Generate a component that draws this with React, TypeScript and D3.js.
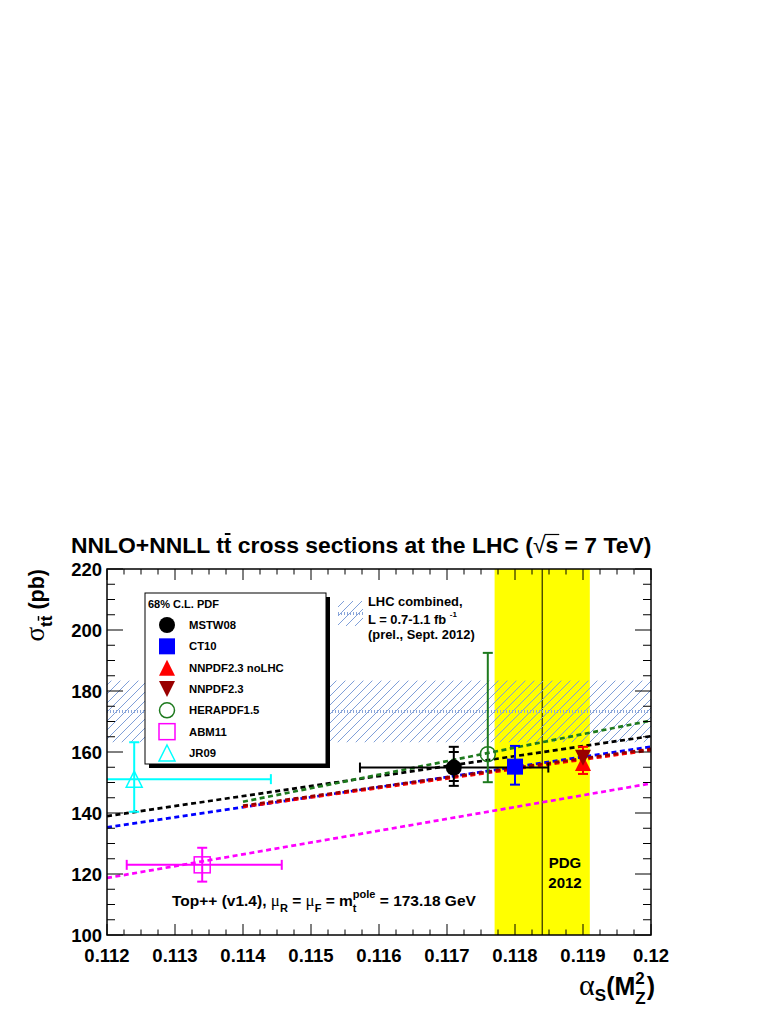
import React, { useEffect, useRef } from 'react';
import * as d3 from 'd3';

// PDF sets shown in the legend / as points
const pdfNames = ['MSTW08', 'CT10', 'NNPDF2.3 noLHC', 'NNPDF2.3', 'HERAPDF1.5', 'ABM11', 'JR09'];
const pdfColors = ['#000000', '#0000ff', '#ff0000', '#990000', '#1e7a1e', '#ff00ff', '#00ffff'];
const pdfMarkers = ['circle', 'square', 'triUp', 'triDown', 'openCircle', 'openSquare', 'openTri'];

// central values
const alphaS = [0.1171, 0.1180, 0.1190, 0.1190, 0.1176, 0.1134, 0.1124];
const sigma = [154.9, 155.2, 156.4, 158.1, 159.3, 123.0, 151.1];
// total errors
const sigmaLow = [148.9, 149.3, 152.8, 154.8, 150.1, 117.5, 140.4];
const sigmaHigh = [161.7, 162.0, 161.7, 160.3, 192.5, 128.6, 163.2];
// inner (pdf only) errors, MSTW only
const sigmaLowInner = [150.5, null, null, null, null, null, null];
const sigmaHighInner = [160.0, null, null, null, null, null, null];
// alpha_s uncertainties
const alphaLow = [0.11572, null, null, null, null, 0.11229, 0.1104];
const alphaHigh = [0.11849, null, null, null, null, 0.11457, 0.11441];

// sigma(alpha_s) dependence lines
const lineAlphaStart = [0.112, 0.112, 0.114, 0.114, 0.114, 0.112, null];
const lineAlphaEnd = [0.12, 0.12, 0.12, 0.12, 0.12, 0.12, null];
const lineSigmaStart = [139.0, 135.3, 142.0, 142.4, 143.7, 118.7, null];
const lineSigmaEnd = [165.2, 161.7, 160.6, 161.0, 170.3, 149.7, null];

// LHC combined measurement: low, central, high
const lhcCombined = [163.2, 173.3, 183.4];
// PDG 2012 alpha_s: low, central, high
const pdgAlpha = [0.1177, 0.1184, 0.1191];

const xTicks = [0.112, 0.113, 0.114, 0.115, 0.116, 0.117, 0.118, 0.119, 0.12];
const xTickLabels = ['0.112', '0.113', '0.114', '0.115', '0.116', '0.117', '0.118', '0.119', '0.12'];
const yTicks = [100, 120, 140, 160, 180, 200, 220];

const FONT = 'Liberation Sans, Arial, Helvetica, sans-serif';
const GREEK = 'Liberation Serif, Times New Roman, serif';

export default function App() {
  const ref = useRef<SVGSVGElement>(null);

  useEffect(() => {
    const svg = d3.select(ref.current);
    svg.selectAll('*').remove();

    const left = 107, right = 651, top = 569, bottom = 935;
    const x = d3.scaleLinear().domain([0.112, 0.12]).range([left, right]);
    const y = d3.scaleLinear().domain([100, 220]).range([bottom, top]);

    svg.append('rect').attr('width', 781).attr('height', 1010).attr('fill', '#fff');

    /* hatch pattern */
    const defs = svg.append('defs');
    const pat = defs.append('pattern').attr('id', 'hatch')
      .attr('patternUnits', 'userSpaceOnUse').attr('width', 9).attr('height', 9);
    pat.append('path').attr('d', 'M-1,1 L1,-1 M0,9 L9,0 M8,10 L10,8')
      .attr('stroke', '#7f9fd8').attr('stroke-width', 1);
    defs.append('clipPath').attr('id', 'plotclip').append('rect')
      .attr('x', left).attr('y', top).attr('width', right - left).attr('height', bottom - top);

    const plot = svg.append('g').attr('clip-path', 'url(#plotclip)');

    /* PDG band */
    plot.append('rect')
      .attr('x', x(pdgAlpha[0])).attr('y', top)
      .attr('width', x(pdgAlpha[2]) - x(pdgAlpha[0])).attr('height', bottom - top)
      .attr('fill', '#ffff00');
    plot.append('line')
      .attr('x1', x(pdgAlpha[1])).attr('x2', x(pdgAlpha[1]))
      .attr('y1', top).attr('y2', bottom)
      .attr('stroke', '#000').attr('stroke-width', 1);

    /* LHC combined band */
    plot.append('rect')
      .attr('x', left).attr('y', y(lhcCombined[2]))
      .attr('width', right - left).attr('height', y(lhcCombined[0]) - y(lhcCombined[2]))
      .attr('fill', 'url(#hatch)');
    plot.append('line')
      .attr('x1', left).attr('x2', right)
      .attr('y1', y(lhcCombined[1])).attr('y2', y(lhcCombined[1]))
      .attr('stroke', '#8aa6da').attr('stroke-width', 3).attr('stroke-dasharray', '1 2');

    /* dashed sigma(alpha_s) lines */
    pdfNames.forEach((_, i) => {
      if (lineAlphaStart[i] == null) return;
      plot.append('line')
        .attr('x1', x(lineAlphaStart[i] as number)).attr('y1', y(lineSigmaStart[i] as number))
        .attr('x2', x(lineAlphaEnd[i] as number)).attr('y2', y(lineSigmaEnd[i] as number))
        .attr('stroke', pdfColors[i]).attr('stroke-width', 2.7)
        .attr('stroke-dasharray', '5 3.5');
    });

    /* error bars */
    const cap = 5;
    pdfNames.forEach((_, i) => {
      const g = plot.append('g').attr('stroke', pdfColors[i]).attr('stroke-width', 2);
      const cx = x(alphaS[i]);
      g.append('line').attr('x1', cx).attr('x2', cx)
        .attr('y1', y(sigmaLow[i])).attr('y2', y(sigmaHigh[i]));
      [sigmaLow[i], sigmaHigh[i], sigmaLowInner[i], sigmaHighInner[i]].forEach(v => {
        if (v == null) return;
        g.append('line').attr('x1', cx - cap).attr('x2', cx + cap)
          .attr('y1', y(v)).attr('y2', y(v));
      });
      if (alphaLow[i] != null) {
        const cy = y(sigma[i]);
        g.append('line').attr('x1', x(alphaLow[i] as number)).attr('x2', x(alphaHigh[i] as number))
          .attr('y1', cy).attr('y2', cy);
        [alphaLow[i], alphaHigh[i]].forEach(v => {
          g.append('line').attr('x1', x(v as number)).attr('x2', x(v as number))
            .attr('y1', cy - cap).attr('y2', cy + cap);
        });
      }
    });

    /* markers */
    const drawMarker = (g: any, kind: string, cx: number, cy: number, color: string) => {
      const s = 8;
      if (kind === 'circle' || kind === 'openCircle') {
        g.append('circle').attr('cx', cx).attr('cy', cy).attr('r', kind === 'circle' ? 8 : 7.5)
          .attr('fill', kind === 'circle' ? color : 'none')
          .attr('stroke', color).attr('stroke-width', kind === 'circle' ? 0 : 1.5);
      } else if (kind === 'square' || kind === 'openSquare') {
        g.append('rect').attr('x', cx - s).attr('y', cy - s).attr('width', 2 * s).attr('height', 2 * s)
          .attr('fill', kind === 'square' ? color : 'none')
          .attr('stroke', color).attr('stroke-width', kind === 'square' ? 0 : 1.5);
      } else if (kind === 'triUp' || kind === 'openTri') {
        g.append('path').attr('d', `M${cx},${cy - s} L${cx + s},${cy + s} L${cx - s},${cy + s} Z`)
          .attr('fill', kind === 'triUp' ? color : 'none')
          .attr('stroke', color).attr('stroke-width', kind === 'triUp' ? 0 : 1.5);
      } else if (kind === 'triDown') {
        g.append('path').attr('d', `M${cx},${cy + s} L${cx + s},${cy - s} L${cx - s},${cy - s} Z`)
          .attr('fill', color);
      }
    };
    pdfNames.forEach((_, i) => {
      drawMarker(plot, pdfMarkers[i], x(alphaS[i]), y(sigma[i]), pdfColors[i]);
    });

    /* frame + ticks */
    const axes = svg.append('g').attr('stroke', '#000').attr('stroke-width', 1);
    for (let v = 100; v <= 220; v += 5) {
      const len = v % 20 === 0 ? 16 : 8;
      axes.append('line').attr('x1', left).attr('x2', left + len).attr('y1', y(v)).attr('y2', y(v));
      axes.append('line').attr('x1', right).attr('x2', right - len).attr('y1', y(v)).attr('y2', y(v));
    }
    for (let k = 0; k <= 32; k++) {
      const v = 0.112 + k * 0.00025;
      const len = k % 4 === 0 ? 11 : 5.5;
      axes.append('line').attr('x1', x(v)).attr('x2', x(v)).attr('y1', bottom).attr('y2', bottom - len);
      axes.append('line').attr('x1', x(v)).attr('x2', x(v)).attr('y1', top).attr('y2', top + len);
    }
    axes.append('rect').attr('x', left).attr('y', top).attr('width', right - left).attr('height', bottom - top)
      .attr('fill', 'none').attr('stroke-width', 1.5);

    /* tick labels */
    const labels = svg.append('g').attr('font-family', FONT).attr('font-weight', 'bold').attr('font-size', 18.5);
    yTicks.forEach(v => {
      labels.append('text').attr('x', left - 5).attr('y', y(v) + 6.5).attr('text-anchor', 'end').text(v);
    });
    xTicks.forEach((v, i) => {
      labels.append('text').attr('x', x(v)).attr('y', bottom + 27).attr('text-anchor', 'middle').text(xTickLabels[i]);
    });

    /* title */
    const title = svg.append('text').attr('x', 71).attr('y', 553)
      .attr('font-family', FONT).attr('font-weight', 'bold').attr('font-size', 22.9);
    title.append('tspan').text('NNLO+NNLL t');
    const tbar = title.append('tspan').text('t');
    title.append('tspan').text(' cross sections at the LHC (');
    const rad = title.append('tspan').text('√').attr('font-weight', 'normal');
    const sq = title.append('tspan').text('s');
    title.append('tspan').text(' = 7 TeV)');
    {
      const n: any = tbar.node();
      const a = n.getStartPositionOfChar(0).x, b = n.getEndPositionOfChar(0).x;
      svg.append('line').attr('x1', a + 1).attr('x2', b - 1).attr('y1', 553 - 19).attr('y2', 553 - 19)
        .attr('stroke', '#000').attr('stroke-width', 2);
      const r: any = rad.node(); const s: any = sq.node();
      svg.append('line').attr('x1', r.getEndPositionOfChar(0).x - 1).attr('x2', s.getEndPositionOfChar(0).x + 1)
        .attr('y1', 553 - 18.5).attr('y2', 553 - 18.5).attr('stroke', '#000').attr('stroke-width', 1.2);
    }

    /* y-axis title */
    const yt = svg.append('g').attr('transform', `translate(44,${top}) rotate(-90)`);
    const ytt = yt.append('text').attr('text-anchor', 'end')
      .attr('font-family', FONT).attr('font-weight', 'bold');
    ytt.append('tspan').text('σ').attr('font-family', GREEK).attr('font-weight', 'normal').attr('font-size', 27);
    ytt.append('tspan').text('t').attr('font-size', 17).attr('dy', 8);
    const ybar = ytt.append('tspan').text('t').attr('font-size', 17);
    ytt.append('tspan').text('  (pb)').attr('font-size', 21.5).attr('dy', -8);
    {
      const n: any = ybar.node();
      const a = n.getStartPositionOfChar(0).x, b = n.getEndPositionOfChar(0).x;
      yt.append('line').attr('x1', a + 0.5).attr('x2', b - 0.5).attr('y1', 8 - 13.5).attr('y2', 8 - 13.5)
        .attr('stroke', '#000').attr('stroke-width', 1.5);
    }

    /* x-axis title */
    const xg = svg.append('g');
    const xt = xg.append('text').attr('x', 0).attr('y', 995)
      .attr('font-family', FONT).attr('font-weight', 'bold');
    xt.append('tspan').text('α').attr('font-family', GREEK).attr('font-weight', 'normal').attr('font-size', 30);
    xt.append('tspan').text('S').attr('font-size', 17).attr('dy', 6);
    xt.append('tspan').text('(M').attr('font-size', 25).attr('dy', -6);
    const sup = xt.append('tspan').text('2').attr('font-size', 17).attr('dy', -11);
    {
      const n: any = sup.node();
      const sx = n.getStartPositionOfChar(0).x;
      const ex = n.getEndPositionOfChar(0).x;
      const sub = xt.append('tspan').text('Z').attr('font-size', 17).attr('x', sx).attr('dy', 20);
      const ez = (sub.node() as any).getEndPositionOfChar(0).x;
      xt.append('tspan').text(')').attr('font-size', 25).attr('x', Math.max(ex, ez) + 1).attr('dy', -9);
      const bb = (xt.node() as any).getBBox();
      xg.attr('transform', `translate(${right + 4 - (bb.x + bb.width)},0)`);
    }

    /* Top++ annotation */
    const an = svg.append('text').attr('x', 172).attr('y', 906)
      .attr('font-family', FONT).attr('font-weight', 'bold').attr('font-size', 15.5);
    an.append('tspan').text('Top++ (v1.4), ');
    an.append('tspan').text('μ').attr('font-family', GREEK).attr('font-weight', 'normal').attr('font-size', 17);
    an.append('tspan').text('R').attr('font-size', 11).attr('dy', 6);
    an.append('tspan').text(' = ').attr('dy', -6);
    an.append('tspan').text('μ').attr('font-family', GREEK).attr('font-weight', 'normal').attr('font-size', 17);
    an.append('tspan').text('F').attr('font-size', 11).attr('dy', 6);
    an.append('tspan').text(' = m').attr('dy', -6);
    const pole = an.append('tspan').text('pole').attr('font-size', 11).attr('dy', -8);
    {
      const n: any = pole.node();
      const sx = n.getStartPositionOfChar(0).x;
      const ex = n.getEndPositionOfChar(3).x;
      an.append('tspan').text('t').attr('font-size', 11).attr('x', sx).attr('dy', 14);
      an.append('tspan').text(' = 173.18 GeV').attr('x', ex).attr('dy', -6);
    }

    /* PDG label */
    const pdg = svg.append('g').attr('font-family', FONT).attr('font-weight', 'bold').attr('font-size', 15)
      .attr('text-anchor', 'middle');
    pdg.append('text').attr('x', 565).attr('y', 868).text('PDG');
    pdg.append('text').attr('x', 565).attr('y', 888).text('2012');

    /* LHC combined legend */
    svg.append('rect').attr('x', 338).attr('y', 601).attr('width', 25).attr('height', 25).attr('fill', 'url(#hatch)');
    svg.append('line').attr('x1', 338).attr('x2', 363).attr('y1', 613.5).attr('y2', 613.5)
      .attr('stroke', '#8aa6da').attr('stroke-width', 3).attr('stroke-dasharray', '1 2');
    const lhc = svg.append('g').attr('font-family', FONT).attr('font-weight', 'bold').attr('font-size', 12.9);
    lhc.append('text').attr('x', 368).attr('y', 606).text('LHC combined,');
    const l2 = lhc.append('text').attr('x', 368).attr('y', 623.5);
    l2.append('tspan').text('L = 0.7-1.1 fb ');
    l2.append('tspan').text('-1').attr('font-size', 8).attr('dy', -7);
    lhc.append('text').attr('x', 368).attr('y', 639).text('(prel., Sept. 2012)');

    /* PDF legend */
    const lg = svg.append('g');
    lg.append('rect').attr('x', 149).attr('y', 597).attr('width', 181).attr('height', 171).attr('fill', '#000');
    lg.append('rect').attr('x', 145).attr('y', 593).attr('width', 181).attr('height', 171)
      .attr('fill', '#fff').attr('stroke', '#000').attr('stroke-width', 1);
    lg.append('text').attr('x', 148).attr('y', 608).attr('font-family', FONT).attr('font-weight', 'bold')
      .attr('font-size', 11).text('68% C.L. PDF');
    const rowY = d3.scaleLinear().domain([0, 6]).range([625, 753]);
    pdfNames.forEach((name, i) => {
      drawMarker(lg, pdfMarkers[i], 167, rowY(i), pdfColors[i]);
      lg.append('text').attr('x', 189).attr('y', rowY(i) + 4).attr('font-family', FONT)
        .attr('font-weight', 'bold').attr('font-size', 11.3).text(name);
    });
  }, []);

  return <svg ref={ref} width={781} height={1010} style={{ position: 'absolute', left: 0, top: 0, display: 'block' }} />;
}
